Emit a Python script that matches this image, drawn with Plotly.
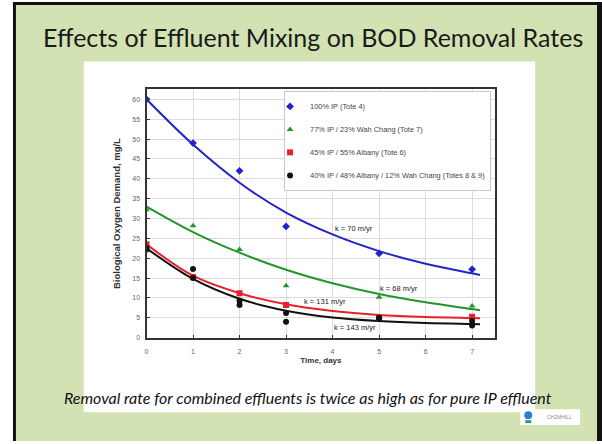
import plotly.graph_objects as go

W, H = 602, 444

# ---- data ----
days = [0, 1, 2, 3, 5, 7]
tote4 = [60, 49, 42, 28, 21.2, 17.2]
tote7 = [32.2, 28.2, 22.2, 13.1, 10.2, 8.0]
tote6 = [23.5, 15.3, 11.2, 8.2, 5.0, 5.3]
totes89_days = [0, 0, 1, 1, 2, 2, 3, 3, 5, 5, 7, 7]
totes89 = [22.2, 22.6, 17.3, 15.0, 9.3, 8.2, 6.2, 4.0, 5.0, 4.8, 4.2, 3.1]

fit_days = [0, 1, 2, 3, 4, 5, 6, 7, 7.17]
fit_tote4 = [60, 48.6, 39.0, 31.5, 26.0, 21.8, 18.6, 16.2, 15.8]
fit_tote7 = [33, 26.6, 21.4, 17.1, 13.7, 11.0, 8.9, 7.2, 6.9]
fit_tote6 = [23.5, 15.6, 11.2, 8.4, 6.7, 5.7, 5.2, 4.95, 4.9]
fit_totes89 = [22.5, 14.8, 9.8, 6.8, 5.1, 4.2, 3.7, 3.45, 3.4]

names = ["100% IP (Tote 4)",
         "77% IP / 23% Wah Chang (Tote 7)",
         "45% IP / 55% Albany (Tote 6)",
         "40% IP / 48% Albany / 12% Wah Chang (Totes 8 & 9)"]
k_labels = ["k = 70 m/yr", "k = 68 m/yr", "k = 131 m/yr", "k = 143 m/yr"]
k_pos = [(4.47, 27.6), (5.43, 12.3), (3.83, 9.0), (4.49, 2.6)]

colors = ["#2323c8", "#22962a", "#e8202a", "#111111"]
symbols = ["diamond", "triangle-up", "square", "circle"]

title_text = "Effects of Effluent Mixing on BOD Removal Rates"
caption_text = "Removal rate for combined effluents is twice as high as for pure IP effluent"


def px(x):
    return x / W


def py(y):
    return 1 - y / H


fig = go.Figure()

series = [(days, tote4, fit_tote4), (days, tote7, fit_tote7),
          (days, tote6, fit_tote6), (totes89_days, totes89, fit_totes89)]

for i, (xs, ys, fit) in enumerate(series):
    fig.add_trace(go.Scatter(x=fit_days, y=fit, mode="lines",
                             line=dict(color=colors[i], width=2, shape="spline"),
                             showlegend=False, hoverinfo="skip"))
for i, (xs, ys, fit) in enumerate(series):
    fig.add_trace(go.Scatter(x=xs, y=ys, mode="markers", name=names[i],
                             legendgroup=str(i),
                             marker=dict(color=colors[i], symbol=symbols[i], size=6,
                                         line=dict(width=0))))

shapes = []
# slide background
shapes.append(dict(type="rect", xref="paper", yref="paper", x0=px(14), x1=px(597),
                   y0=py(444), y1=py(5), fillcolor="#d3e2b3", line_width=0, layer="below"))
for (x0, y0, x1, y1) in [(11, 2, 14, 444), (11, 2, 602, 5), (597, 2, 602, 444)]:
    shapes.append(dict(type="rect", xref="paper", yref="paper", x0=px(x0), x1=px(x1),
                       y0=py(y1), y1=py(y0), fillcolor="#111111", line_width=0, layer="below"))
# white panel
shapes.append(dict(type="rect", xref="paper", yref="paper", x0=px(82), x1=px(535),
                   y0=py(415), y1=py(62), fillcolor="white", line_width=0, layer="below"))
# logo
shapes.append(dict(type="rect", xref="paper", yref="paper", x0=px(520), x1=px(580),
                   y0=py(428), y1=py(412), fillcolor="white", line_width=0, layer="below"))
shapes.append(dict(type="circle", xref="paper", yref="paper", x0=px(524), x1=px(532),
                   y0=py(422), y1=py(414), fillcolor="#2a7fd0", line_width=0, layer="below"))
shapes.append(dict(type="rect", xref="paper", yref="paper", x0=px(525), x1=px(531),
                   y0=py(426), y1=py(423), fillcolor="#3a9a6a", line_width=0, layer="below"))

annotations = []
annotations.append(dict(text=title_text, xref="paper", yref="paper", x=px(312), y=py(37),
                        showarrow=False, xanchor="center", yanchor="middle",
                        font=dict(family="Lato", size=25, color="#1a1a1a")))
annotations.append(dict(text="<i>" + caption_text + "</i>", xref="paper", yref="paper",
                        x=px(307), y=py(400), showarrow=False, xanchor="center",
                        yanchor="middle", font=dict(family="Lato", size=16, color="#111111")))
annotations.append(dict(text="CH2MHILL", xref="paper", yref="paper", x=px(559), y=py(420),
                        showarrow=False, xanchor="center", yanchor="middle",
                        font=dict(family="Liberation Sans", size=5, color="#8a8a8a")))
for lab, (kx, ky) in zip(k_labels, k_pos):
    annotations.append(dict(text=lab, x=kx, y=ky, xref="x", yref="y", showarrow=False,
                            xanchor="center", yanchor="middle",
                            font=dict(family="Liberation Sans", size=7.5, color="#222222")))

fig.update_layout(
    width=W, height=H, margin=dict(l=0, r=0, t=0, b=0),
    paper_bgcolor="white", plot_bgcolor="rgba(0,0,0,0)",
    shapes=shapes, annotations=annotations,
    legend=dict(x=px(283), y=py(91.5), xanchor="left", yanchor="top",
                bgcolor="white", bordercolor="#c8c8c8", borderwidth=1,
                tracegroupgap=4, indentation=-15,
                font=dict(family="Liberation Sans", size=7.4, color="#444444")),
    xaxis=dict(domain=[px(145), px(495)], range=[0, 7.5], dtick=1, tick0=0,
               showgrid=True, gridcolor="#dcdcdc", gridwidth=1,
               showline=True, linecolor="#333333", linewidth=2, mirror=True,
               ticks="inside", ticklen=3, tickcolor="#333333", zeroline=False,
               ticklabelstandoff=6,
               tickfont=dict(family="Liberation Sans", size=7, color="#666666"),
               title=dict(text="<b>Time, days</b>", standoff=3,
                          font=dict(family="Liberation Sans", size=8, color="#333333"))),
    yaxis=dict(domain=[py(340), py(90)], range=[0, 62.5], dtick=5, tick0=0,
               showgrid=True, gridcolor="#dcdcdc", gridwidth=1,
               showline=True, linecolor="#333333", linewidth=2, mirror=True,
               ticks="inside", ticklen=3, tickcolor="#333333", zeroline=False,
               ticklabelstandoff=3,
               tickfont=dict(family="Liberation Sans", size=7, color="#666666"),
               title=dict(text="<b>Biological Oxygen Demand, mg/L</b>", standoff=10,
                          font=dict(family="Liberation Sans", size=9.5, color="#333333"))),
)

fig.write_html("out.html", config={"displayModeBar": False},
               post_script="document.body.style.margin='0px';")
